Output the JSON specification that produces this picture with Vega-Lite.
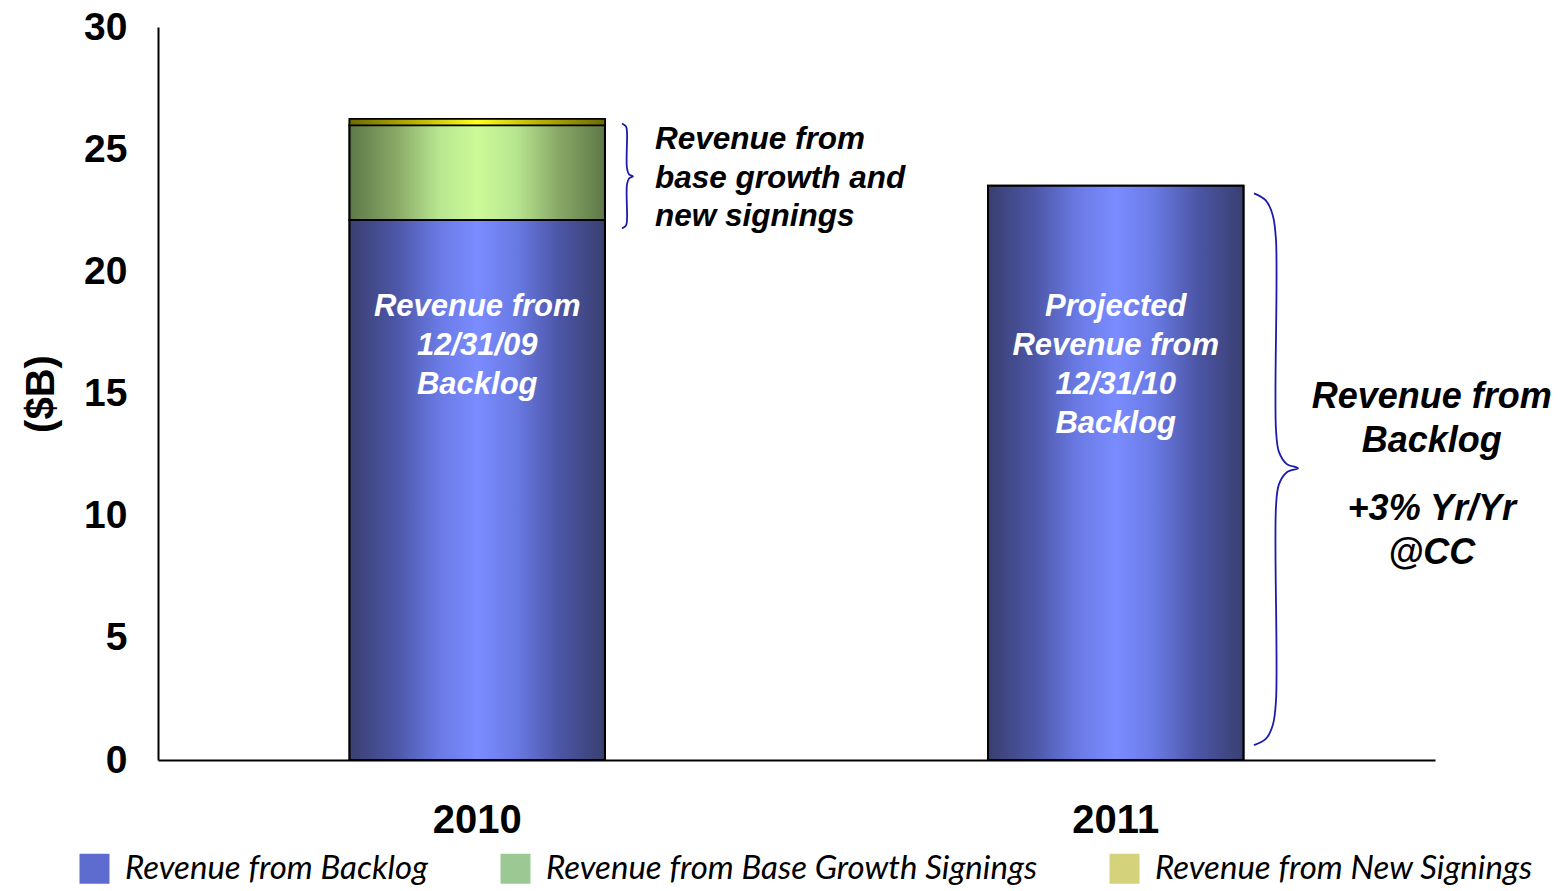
{
  "$schema": "https://vega.github.io/schema/vega-lite/v6.json",
  "width": 1277,
  "height": 733,
  "autosize": "none",
  "padding": {"left": 158, "top": 27, "right": 129, "bottom": 131},
  "background": "white",
  "config": {"view": {"stroke": null}, "font": "Liberation Sans"},
  "datasets": {
    "bars": [
      {"year": "2010", "series": "Revenue from Backlog", "order": 1, "value": 22.1},
      {"year": "2010", "series": "Revenue from Base Growth Signings", "order": 2, "value": 3.88},
      {"year": "2010", "series": "Revenue from New Signings", "order": 3, "value": 0.25},
      {"year": "2011", "series": "Revenue from Backlog", "order": 1, "value": 23.5}
    ],
    "inbar": [
      {"year": "2010", "label": "Revenue from\n12/31/09\nBacklog", "v": 18.53},
      {"year": "2011", "label": "Projected\nRevenue from\n12/31/10\nBacklog", "v": 18.53}
    ],
    "noteLeft": [
      {"u": 0.7784, "v": 25.36, "label": "Revenue from\nbase growth and\nnew signings"}
    ],
    "noteRight": [
      {"u": 1.995, "v": 14.85, "label": "Revenue from\nBacklog"},
      {"u": 1.995, "v": 10.27, "label": "+3% Yr/Yr\n@CC"}
    ],
    "braces": [
      {"brace": "2010", "i": 1, "u": 0.7267, "v": 26.05},
      {"brace": "2010", "i": 2, "u": 0.733, "v": 25.93},
      {"brace": "2010", "i": 3, "u": 0.7345, "v": 25.69},
      {"brace": "2010", "i": 4, "u": 0.7345, "v": 24.21},
      {"brace": "2010", "i": 5, "u": 0.7377, "v": 23.97},
      {"brace": "2010", "i": 6, "u": 0.7439, "v": 23.89},
      {"brace": "2010", "i": 7, "u": 0.7377, "v": 23.8},
      {"brace": "2010", "i": 8, "u": 0.7345, "v": 23.56},
      {"brace": "2010", "i": 9, "u": 0.7345, "v": 22.09},
      {"brace": "2010", "i": 10, "u": 0.733, "v": 21.88},
      {"brace": "2010", "i": 11, "u": 0.7267, "v": 21.76},
      {"brace": "2011", "i": 1, "u": 1.7165, "v": 23.19},
      {"brace": "2011", "i": 2, "u": 1.735, "v": 22.9},
      {"brace": "2011", "i": 3, "u": 1.746, "v": 22.29},
      {"brace": "2011", "i": 4, "u": 1.751, "v": 21.27},
      {"brace": "2011", "i": 5, "u": 1.751, "v": 13.5},
      {"brace": "2011", "i": 6, "u": 1.7557, "v": 12.6},
      {"brace": "2011", "i": 7, "u": 1.768, "v": 12.11},
      {"brace": "2011", "i": 8, "u": 1.7854, "v": 11.94},
      {"brace": "2011", "i": 9, "u": 1.768, "v": 11.78},
      {"brace": "2011", "i": 10, "u": 1.7557, "v": 11.29},
      {"brace": "2011", "i": 11, "u": 1.751, "v": 10.39},
      {"brace": "2011", "i": 12, "u": 1.751, "v": 2.45},
      {"brace": "2011", "i": 13, "u": 1.746, "v": 1.43},
      {"brace": "2011", "i": 14, "u": 1.735, "v": 0.86},
      {"brace": "2011", "i": 15, "u": 1.7165, "v": 0.61}
    ]
  },
  "layer": [
    {
      "data": {"name": "bars"},
      "transform": [
        {"stack": "value", "groupby": ["year"], "sort": [{"field": "order", "order": "ascending"}], "as": ["y0", "y1"]}
      ],
      "encoding": {
        "x": {
          "field": "year", "type": "nominal",
          "scale": {"domain": ["2010", "2011"], "paddingInner": 0.6, "paddingOuter": 0.3},
          "axis": {
            "title": null, "labelAngle": 0, "labelFontSize": 40, "labelFontWeight": "bold", "labelColor": "black",
            "ticks": false, "tickSize": 0, "labelPadding": 40, "domainColor": "black", "domainWidth": 2, "grid": false
          }
        },
        "y": {
          "field": "y1", "type": "quantitative", "title": "($B)",
          "scale": {"domain": [0, 30], "nice": false},
          "axis": {
            "values": [0, 5, 10, 15, 20, 25, 30], "labelFontSize": 39, "labelFontWeight": "bold", "labelColor": "black",
            "ticks": false, "tickSize": 0, "labelPadding": 31, "grid": false, "domainColor": "black", "domainWidth": 2,
            "titleFontSize": 40, "titleFontWeight": "bold", "titleColor": "black", "titlePadding": 22
          }
        },
        "y2": {"field": "y0"}
      },
      "layer": [
        {
          "mark": {"type": "bar", "stroke": "black", "strokeWidth": 2},
          "encoding": {
            "color": {
              "field": "series", "type": "nominal",
              "scale": {
                "domain": ["Revenue from Backlog", "Revenue from Base Growth Signings", "Revenue from New Signings"],
                "range": ["#5e6cd0", "#9cc894", "#d4d27a"]
              },
              "legend": {
                "orient": "none", "legendX": -80, "legendY": 825, "direction": "horizontal", "title": null,
                "symbolType": "square", "symbolSize": 900, "symbolStrokeWidth": 0, "symbolOpacity": 1,
                "labelFont": "Lato", "labelFontStyle": "italic", "labelFontSize": 33, "labelColor": "black",
                "labelOffset": 14, "columnPadding": 70, "labelLimit": 0
              }
            }
          }
        },
        {
          "transform": [{"filter": "datum.series === 'Revenue from Backlog'"}],
          "mark": {
            "type": "bar", "stroke": "black", "strokeWidth": 2,
            "fill": {"gradient": "linear", "x1": 0, "y1": 0, "x2": 1, "y2": 0, "stops": [
              {"offset": 0, "color": "#393f70"}, {"offset": 0.18, "color": "#4c56a6"}, {"offset": 0.35, "color": "#6a7ae4"},
              {"offset": 0.5, "color": "#7a8cff"}, {"offset": 0.65, "color": "#6a7ae4"}, {"offset": 0.82, "color": "#4c56a6"},
              {"offset": 1, "color": "#393f70"}]}
          }
        },
        {
          "transform": [{"filter": "datum.series === 'Revenue from Base Growth Signings'"}],
          "mark": {
            "type": "bar", "stroke": "black", "strokeWidth": 2,
            "fill": {"gradient": "linear", "x1": 0, "y1": 0, "x2": 1, "y2": 0, "stops": [
              {"offset": 0, "color": "#5e7848"}, {"offset": 0.18, "color": "#88a866"}, {"offset": 0.35, "color": "#b8e690"},
              {"offset": 0.5, "color": "#ccfa98"}, {"offset": 0.65, "color": "#b8e690"}, {"offset": 0.82, "color": "#88a866"},
              {"offset": 1, "color": "#5e7848"}]}
          }
        },
        {
          "transform": [{"filter": "datum.series === 'Revenue from New Signings'"}],
          "mark": {
            "type": "bar", "stroke": "black", "strokeWidth": 1.5,
            "fill": {"gradient": "linear", "x1": 0, "y1": 0, "x2": 1, "y2": 0, "stops": [
              {"offset": 0, "color": "#6e6a00"}, {"offset": 0.25, "color": "#b8b000"}, {"offset": 0.5, "color": "#ffff20"},
              {"offset": 0.75, "color": "#b8b000"}, {"offset": 1, "color": "#6e6a00"}]}
          }
        }
      ]
    },
    {
      "data": {"name": "inbar"},
      "mark": {"type": "text", "lineBreak": "\n", "align": "center", "baseline": "middle", "font": "Liberation Sans", "fontWeight": "bold", "fontStyle": "italic", "fontSize": 31, "lineHeight": 39, "color": "white"},
      "encoding": {
        "x": {"field": "year", "type": "nominal", "scale": {"domain": ["2010", "2011"], "paddingInner": 0.6, "paddingOuter": 0.3}, "axis": null},
        "y": {"field": "v", "type": "quantitative", "title": "($B)"},
        "text": {"field": "label"}
      }
    },
    {
      "data": {"name": "noteLeft"},
      "mark": {"type": "text", "lineBreak": "\n", "align": "left", "baseline": "middle", "font": "Liberation Sans", "fontWeight": "bold", "fontStyle": "italic", "fontSize": 31.5, "lineHeight": 38.5, "color": "black"},
      "encoding": {
        "x": {"field": "u", "type": "quantitative", "scale": {"domain": [0, 2], "nice": false, "zero": false}, "axis": null},
        "y": {"field": "v", "type": "quantitative", "title": "($B)"},
        "text": {"field": "label"}
      }
    },
    {
      "data": {"name": "noteRight"},
      "mark": {"type": "text", "lineBreak": "\n", "align": "center", "baseline": "middle", "font": "Liberation Sans", "fontWeight": "bold", "fontStyle": "italic", "fontSize": 36, "lineHeight": 44, "color": "black"},
      "encoding": {
        "x": {"field": "u", "type": "quantitative", "scale": {"domain": [0, 2], "nice": false, "zero": false}, "axis": null},
        "y": {"field": "v", "type": "quantitative", "title": "($B)"},
        "text": {"field": "label"}
      }
    },
    {
      "data": {"name": "braces"},
      "mark": {"type": "line", "interpolate": "catmull-rom", "stroke": "#1c1ca8", "strokeWidth": 1.8},
      "encoding": {
        "x": {"field": "u", "type": "quantitative", "scale": {"domain": [0, 2], "nice": false, "zero": false}, "axis": null},
        "y": {"field": "v", "type": "quantitative", "title": "($B)"},
        "detail": {"field": "brace"},
        "order": {"field": "i"}
      }
    }
  ],
  "resolve": {"scale": {"x": "independent"}}
}
